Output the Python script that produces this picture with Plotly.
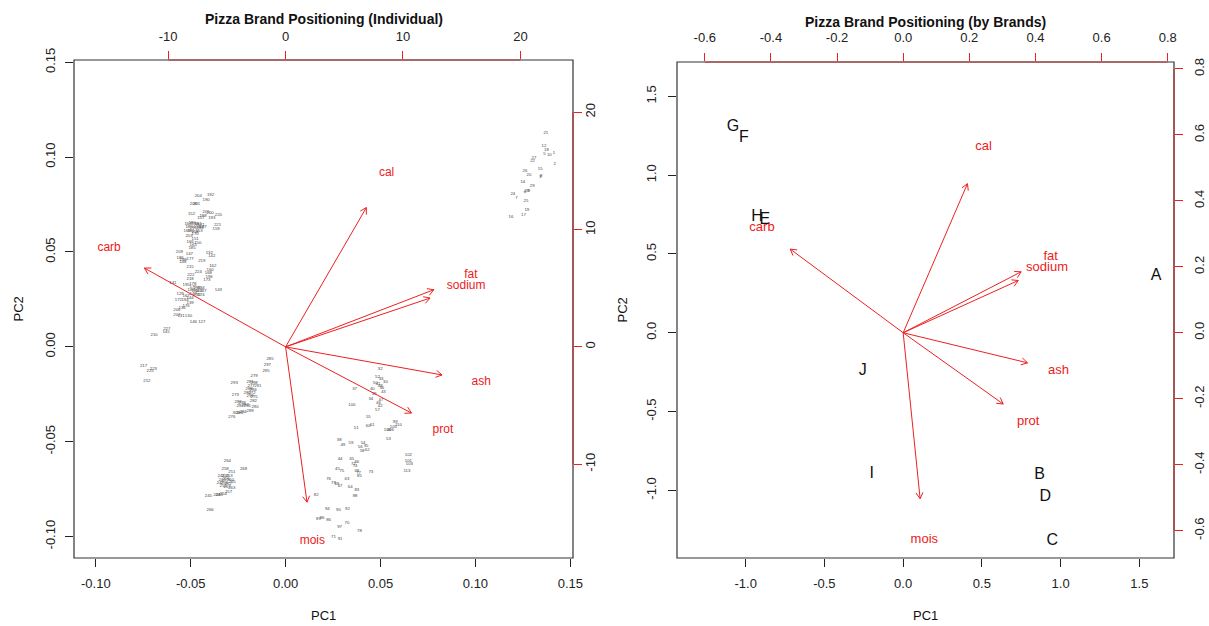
import math
import plotly.graph_objects as go

W, H = 1209, 626

# ---------------- Individual biplot: observation scores (PC1, PC2) ----------------
ind_labels = [
    # brand A group (top right)
    "21", "12", "18", "5", "10", "1", "2", "27", "22", "15", "26", "20", "3", "8", "14",
    "29", "28", "9", "24", "6", "7", "25", "19", "17", "16",
    # brands E-H group (left)
    "204", "192", "190", "208", "201", "152", "205", "200", "188", "193", "157", "220",
    "164", "180", "156", "161", "171", "183", "191", "154", "198", "169", "181", "158",
    "153", "197", "221", "159", "170", "203", "151", "166", "150", "165", "185", "209",
    "147", "132", "142", "186", "199", "177", "219", "148", "215", "162", "224", "160",
    "168", "222", "173", "196", "218", "141", "178", "195", "175", "138", "134", "189",
    "184", "163", "137", "149", "133", "174", "143", "129", "167", "144", "194", "172",
    "139", "176", "136", "206", "207", "131", "130", "146", "127", "227", "145", "210",
    "217", "223", "225", "212",
    # brand J group (middle)
    "285", "297", "295", "279", "293", "281", "298", "277", "291", "288", "294", "280",
    "272", "273", "299", "275", "282", "283", "278", "287", "292", "290", "296", "286",
    "284", "289", "276", "300",
    # brand I group (lower left)
    "264", "268", "258", "251", "241", "250", "253", "244", "256", "260", "247", "259",
    "262", "265", "252", "267", "263", "245", "248", "254", "257", "243", "266",
    # brands B-D group (lower right)
    "32", "52", "33", "30", "50", "41", "48", "37", "40", "36", "43", "39", "34", "47",
    "46", "42", "100", "57", "55", "51", "60", "61", "108", "99", "110", "105", "106",
    "53", "38", "49", "59", "54", "56", "35", "58", "62", "102", "101", "103", "113",
    "44", "65", "66", "72", "74", "45", "75", "68", "77", "85", "73", "76", "63", "79",
    "69", "67", "64", "83", "88", "82", "94", "90", "92", "89", "96", "86", "70", "97",
    "78", "71", "91",
]
ind_pc1 = [
    0.1371, 0.1361, 0.1374, 0.1364, 0.1389, 0.1413, 0.1417, 0.1308, 0.1301, 0.1341,
    0.1261, 0.1282, 0.1341, 0.1346, 0.1250, 0.1299, 0.1271, 0.1282, 0.1197, 0.1261,
    0.1216, 0.1266, 0.1271, 0.1253, 0.1187,
    -0.0460, -0.0396, -0.0419, -0.0486, -0.0469, -0.0496, -0.0419, -0.0398, -0.0435,
    -0.0389, -0.0447, -0.0354, -0.0514, -0.0493, -0.0477, -0.0461, -0.0445, -0.0509,
    -0.0487, -0.0466, -0.0451, -0.0519, -0.0498, -0.0477, -0.0456, -0.0435, -0.0359,
    -0.0366, -0.0477, -0.0509, -0.0477, -0.0503, -0.0463, -0.0487, -0.0493, -0.0560,
    -0.0507, -0.0402, -0.0389, -0.0556, -0.0540, -0.0503, -0.0442, -0.0542, -0.0503,
    -0.0384, -0.0460, -0.0398, -0.0407, -0.0500, -0.0415, -0.0403, -0.0503, -0.0594,
    -0.0489, -0.0524, -0.0487, -0.0466, -0.0445, -0.0498, -0.0477, -0.0456, -0.0435,
    -0.0487, -0.0466, -0.0445, -0.0354, -0.0556, -0.0524, -0.0503, -0.0530, -0.0565,
    -0.0503, -0.0524, -0.0545, -0.0573, -0.0573, -0.0551, -0.0512, -0.0486, -0.0442,
    -0.0626, -0.0630, -0.0693, -0.0749, -0.0697, -0.0714, -0.0731,
    -0.0082, -0.0096, -0.0103, -0.0166, -0.0271, -0.0187, -0.0166, -0.0182, -0.0147,
    -0.0192, -0.0171, -0.0203, -0.0177, -0.0265, -0.0187, -0.0166, -0.0170, -0.0250,
    -0.0229, -0.0213, -0.0240, -0.0161, -0.0203, -0.0243, -0.0224, -0.0187, -0.0284,
    -0.0261,
    -0.0307, -0.0222, -0.0319, -0.0284, -0.0340, -0.0319, -0.0298, -0.0335, -0.0314,
    -0.0292, -0.0345, -0.0324, -0.0303, -0.0282, -0.0329, -0.0308, -0.0284, -0.0407,
    -0.0363, -0.0328, -0.0301, -0.0350, -0.0398,
    0.0498, 0.0484, 0.0503, 0.0526, 0.0472, 0.0487, 0.0498, 0.0363, 0.0457, 0.0507,
    0.0515, 0.0466, 0.0449, 0.0502, 0.0489, 0.0498, 0.0349, 0.0484, 0.0436, 0.0372,
    0.0435, 0.0456, 0.0536, 0.0577, 0.0594, 0.0568, 0.0551, 0.0542, 0.0282, 0.0301,
    0.0344, 0.0408, 0.0393, 0.0424, 0.0403, 0.0430, 0.0647, 0.0647, 0.0652, 0.0639,
    0.0287, 0.0349, 0.0375, 0.0357, 0.0366, 0.0273, 0.0296, 0.0375, 0.0384, 0.0389,
    0.0449, 0.0226, 0.0323, 0.0252, 0.0270, 0.0287, 0.0340, 0.0375, 0.0366, 0.0161,
    0.0220, 0.0278, 0.0326, 0.0173, 0.0192, 0.0226, 0.0323, 0.0284, 0.0389, 0.0252,
    0.0287,
]
ind_pc2 = [
    0.1128, 0.1059, 0.1040, 0.1017, 0.1014, 0.1021, 0.0964, 0.0998, 0.0980, 0.0938,
    0.0926, 0.0906, 0.0898, 0.0899, 0.0870, 0.0848, 0.0824, 0.0822, 0.0808, 0.0815,
    0.0784, 0.0768, 0.0720, 0.0694, 0.0685,
    0.0794, 0.0801, 0.0775, 0.0754, 0.0755, 0.0698, 0.0713, 0.0707, 0.0690, 0.0680,
    0.0677, 0.0694, 0.0649, 0.0652, 0.0647, 0.0649, 0.0644, 0.0631, 0.0628, 0.0631,
    0.0626, 0.0612, 0.0610, 0.0607, 0.0612, 0.0631, 0.0641, 0.0624, 0.0594, 0.0585,
    0.0568, 0.0552, 0.0550, 0.0539, 0.0519, 0.0501, 0.0492, 0.0495, 0.0478, 0.0469,
    0.0460, 0.0462, 0.0453, 0.0445, 0.0422, 0.0429, 0.0395, 0.0404, 0.0387, 0.0378,
    0.0352, 0.0367, 0.0357, 0.0337, 0.0329, 0.0325, 0.0315, 0.0312, 0.0309, 0.0299,
    0.0294, 0.0296, 0.0294, 0.0278, 0.0275, 0.0272, 0.0299, 0.0281, 0.0267, 0.0257,
    0.0249, 0.0246, 0.0229, 0.0214, 0.0204, 0.0197, 0.0167, 0.0164, 0.0162, 0.0132,
    0.0132, 0.0097, 0.0079, 0.0062, -0.0102, -0.0119, -0.0128, -0.0179,
    -0.0065, -0.0093, -0.0126, -0.0153, -0.0190, -0.0186, -0.0191, -0.0204, -0.0206,
    -0.0223, -0.0228, -0.0241, -0.0244, -0.0251, -0.0260, -0.0265, -0.0285, -0.0289,
    -0.0297, -0.0305, -0.0313, -0.0316, -0.0313, -0.0346, -0.0344, -0.0339, -0.0372,
    -0.0347,
    -0.0602, -0.0641, -0.0645, -0.0659, -0.0681, -0.0679, -0.0681, -0.0700, -0.0697,
    -0.0702, -0.0718, -0.0718, -0.0721, -0.0713, -0.0734, -0.0737, -0.0743, -0.0785,
    -0.0782, -0.0773, -0.0764, -0.0779, -0.0861,
    -0.0118, -0.0158, -0.0170, -0.0186, -0.0191, -0.0197, -0.0204, -0.0223, -0.0223,
    -0.0219, -0.0240, -0.0246, -0.0277, -0.0281, -0.0298, -0.0310, -0.0307, -0.0334,
    -0.0372, -0.0430, -0.0415, -0.0413, -0.0439, -0.0395, -0.0413, -0.0422, -0.0439,
    -0.0483, -0.0492, -0.0518, -0.0509, -0.0505, -0.0529, -0.0523, -0.0550, -0.0544,
    -0.0571, -0.0601, -0.0618, -0.0653, -0.0593, -0.0593, -0.0606, -0.0618, -0.0629,
    -0.0646, -0.0653, -0.0653, -0.0662, -0.0681, -0.0659, -0.0694, -0.0697, -0.0717,
    -0.0724, -0.0734, -0.0738, -0.0755, -0.0785, -0.0782, -0.0855, -0.0861, -0.0857,
    -0.0908, -0.0903, -0.0913, -0.0928, -0.0949, -0.0971, -0.1001, -0.1013,
]

# variable loadings (label positions on the top/right axes); arrows drawn at 0.8x
variables = ["cal", "carb", "fat", "sodium", "ash", "prot", "mois"]
ind_load1 = [8.60, -15.03, 15.78, 15.38, 16.66, 13.40, 2.28]
ind_load2 = [14.85, 8.40, 6.09, 5.20, -2.99, -7.05, -16.55]

# ---------------- Brand biplot ----------------
brands = ["A", "B", "C", "D", "E", "F", "G", "H", "I", "J"]
brand_pc1 = [1.606, 0.866, 0.947, 0.903, -0.879, -1.011, -1.081, -0.928, -0.200, -0.257]
brand_pc2 = [0.361, -0.905, -1.319, -1.042, 0.717, 1.238, 1.308, 0.734, -0.894, -0.245]
brand_load1 = [0.243, -0.427, 0.446, 0.435, 0.470, 0.378, 0.064]
brand_load2 = [0.565, 0.317, 0.231, 0.198, -0.114, -0.270, -0.629]

# tick labels
ind_pc_ticks = [-0.10, -0.05, 0.0, 0.05, 0.10, 0.15]
ind_pc_text = ["-0.10", "-0.05", "0.00", "0.05", "0.10", "0.15"]
ind_load_ticks = [-10, 0, 10, 20]
ind_load_text = ["-10", "0", "10", "20"]
brand_pc_ticks = [-1.0, -0.5, 0.0, 0.5, 1.0, 1.5]
brand_pc_text = ["-1.0", "-0.5", "0.0", "0.5", "1.0", "1.5"]
brand_load_ticks = [-0.6, -0.4, -0.2, 0.0, 0.2, 0.4, 0.6, 0.8]
brand_load_text = ["-0.6", "-0.4", "-0.2", "0.0", "0.2", "0.4", "0.6", "0.8"]

# ---------------- layout geometry ----------------
RED = "#ee2020"
DARK = "#222222"
FONT = "Liberation Sans, Arial, Helvetica, sans-serif"

L_px = (74, 573, 60, 558)      # left, right, top, bottom (pixels)
R_px = (677, 1174, 62, 558)

def xdom(p):
    return [p[0] / W, p[1] / W]

def ydom(p):
    return [1 - p[3] / H, 1 - p[2] / H]

ind_pc_xr = [-0.1115, 0.1514]
ind_pc_yr = [-0.1113, 0.1512]
ind_ld_xr = [-18.02, 24.48]
ind_ld_yr = [-18.00, 24.46]
br_pc_xr = [-1.436, 1.720]
br_pc_yr = [-1.429, 1.718]
br_ld_xr = [-0.684, 0.819]
br_ld_yr = [-0.683, 0.821]


def arrows(l1, l2, p, xr, yr, head=7.0, ang=30.0):
    sx = (p[1] - p[0]) / (xr[1] - xr[0])
    sy = (p[3] - p[2]) / (yr[1] - yr[0])
    xs, ys = [], []
    a = math.radians(ang)
    for u, v in zip(l1, l2):
        tx, ty = 0.8 * u, 0.8 * v
        th = math.atan2(ty * sy, tx * sx)
        xs += [0, tx, None]
        ys += [0, ty, None]
        h1x = tx - head * math.cos(th + a) / sx
        h1y = ty - head * math.sin(th + a) / sy
        h2x = tx - head * math.cos(th - a) / sx
        h2y = ty - head * math.sin(th - a) / sy
        xs += [h1x, tx, h2x, None]
        ys += [h1y, ty, h2y, None]
    return xs, ys


fig = go.Figure()

# left: observations
fig.add_trace(go.Scatter(
    x=ind_pc1, y=ind_pc2, text=ind_labels, mode="text",
    textfont=dict(size=4.3, color="#444444", family=FONT),
    xaxis="x", yaxis="y", hoverinfo="skip", showlegend=False))
ax_, ay_ = arrows(ind_load1, ind_load2, L_px, ind_ld_xr, ind_ld_yr)
fig.add_trace(go.Scatter(
    x=ax_, y=ay_, mode="lines", line=dict(color=RED, width=1),
    xaxis="x3", yaxis="y3", hoverinfo="skip", showlegend=False))
fig.add_trace(go.Scatter(
    x=ind_load1, y=ind_load2, text=variables, mode="text",
    textfont=dict(size=12, color=RED, family=FONT),
    xaxis="x3", yaxis="y3", hoverinfo="skip", showlegend=False))

# right: brands
fig.add_trace(go.Scatter(
    x=brand_pc1, y=brand_pc2, text=brands, mode="text",
    textfont=dict(size=16, color="#111111", family=FONT),
    xaxis="x2", yaxis="y2", hoverinfo="skip", showlegend=False))
bx_, by_ = arrows(brand_load1, brand_load2, R_px, br_ld_xr, br_ld_yr)
fig.add_trace(go.Scatter(
    x=bx_, y=by_, mode="lines", line=dict(color=RED, width=1),
    xaxis="x4", yaxis="y4", hoverinfo="skip", showlegend=False))
fig.add_trace(go.Scatter(
    x=brand_load1, y=brand_load2, text=variables, mode="text",
    textfont=dict(size=13, color=RED, family=FONT),
    xaxis="x4", yaxis="y4", hoverinfo="skip", showlegend=False))


def axis(dom, rng, vals, txt, tickcolor, side, standoff, angle=0, **kw):
    d = dict(domain=dom, range=rng, tickmode="array", tickvals=vals, ticktext=txt,
             ticks="outside", ticklen=8, tickwidth=1, tickcolor=tickcolor,
             tickfont=dict(size=13, color=DARK, family=FONT), showgrid=False,
             zeroline=False, showline=False, side=side, tickangle=angle,
             ticklabelstandoff=standoff, fixedrange=True, automargin=False)
    d.update(kw)
    return d


fig.update_layout(
    width=W, height=H, margin=dict(l=0, r=0, t=0, b=0, autoexpand=False),
    paper_bgcolor="white", plot_bgcolor="white",
    font=dict(family=FONT, color=DARK),
    xaxis=axis(xdom(L_px), ind_pc_xr, ind_pc_ticks, ind_pc_text, DARK, "bottom", 5, anchor="y"),
    yaxis=axis(ydom(L_px), ind_pc_yr, ind_pc_ticks, ind_pc_text, DARK, "left", 5, -90, anchor="x"),
    xaxis3=axis(xdom(L_px), ind_ld_xr, ind_load_ticks, ind_load_text, RED, "top", 5,
                overlaying="x", anchor="y"),
    yaxis3=axis(ydom(L_px), ind_ld_yr, ind_load_ticks, ind_load_text, RED, "right", -3, -90,
                overlaying="y", anchor="x"),
    xaxis2=axis(xdom(R_px), br_pc_xr, brand_pc_ticks, brand_pc_text, DARK, "bottom", 5, anchor="y2"),
    yaxis2=axis(ydom(R_px), br_pc_yr, brand_pc_ticks, brand_pc_text, DARK, "left", 7, -90, anchor="x2"),
    xaxis4=axis(xdom(R_px), br_ld_xr, brand_load_ticks, brand_load_text, RED, "top", 6,
                overlaying="x2", anchor="y2"),
    yaxis4=axis(ydom(R_px), br_ld_yr, brand_load_ticks, brand_load_text, RED, "right", 5, -90,
                overlaying="y2", anchor="x2"),
)

shapes = []
for p in (L_px, R_px):
    shapes.append(dict(type="rect", xref="paper", yref="paper",
                       x0=p[0] / W, x1=p[1] / W, y0=1 - p[3] / H, y1=1 - p[2] / H,
                       line=dict(color="#333333", width=1.2), layer="above"))
# red axis lines along the tick span of the top / right axes
shapes.append(dict(type="line", xref="x3", yref="paper", x0=ind_load_ticks[0], x1=ind_load_ticks[-1],
                   y0=1 - L_px[2] / H, y1=1 - L_px[2] / H, line=dict(color="#b83a3a", width=1.2)))
shapes.append(dict(type="line", xref="paper", yref="y3", y0=ind_load_ticks[0], y1=ind_load_ticks[-1],
                   x0=L_px[1] / W, x1=L_px[1] / W, line=dict(color="#b83a3a", width=1.2)))
shapes.append(dict(type="line", xref="x4", yref="paper", x0=brand_load_ticks[0], x1=brand_load_ticks[-1],
                   y0=1 - R_px[2] / H, y1=1 - R_px[2] / H, line=dict(color="#b83a3a", width=1.2)))
shapes.append(dict(type="line", xref="paper", yref="y4", y0=brand_load_ticks[0], y1=brand_load_ticks[-1],
                   x0=R_px[1] / W, x1=R_px[1] / W, line=dict(color="#b83a3a", width=1.2)))
fig.update_layout(shapes=shapes)

ann = []
def text_ann(txt, xp, yp, size, bold=False, angle=0):
    ann.append(dict(text=("<b>%s</b>" % txt) if bold else txt, xref="paper", yref="paper",
                    x=xp / W, y=1 - yp / H, showarrow=False, xanchor="center", yanchor="middle",
                    textangle=angle, font=dict(size=size, color="#111111", family=FONT)))

text_ann("Pizza Brand Positioning (Individual)", 323.5, 19, 14, bold=True)
text_ann("Pizza Brand Positioning (by Brands)", 925.5, 22, 14, bold=True)
text_ann("PC1", 323.5, 615, 13)
text_ann("PC1", 925.5, 615, 13)
text_ann("PC2", 18.5, 309, 13, angle=-90)
text_ann("PC2", 621.5, 310, 13, angle=-90)
fig.update_layout(annotations=ann)

fig.write_html("out.html")
